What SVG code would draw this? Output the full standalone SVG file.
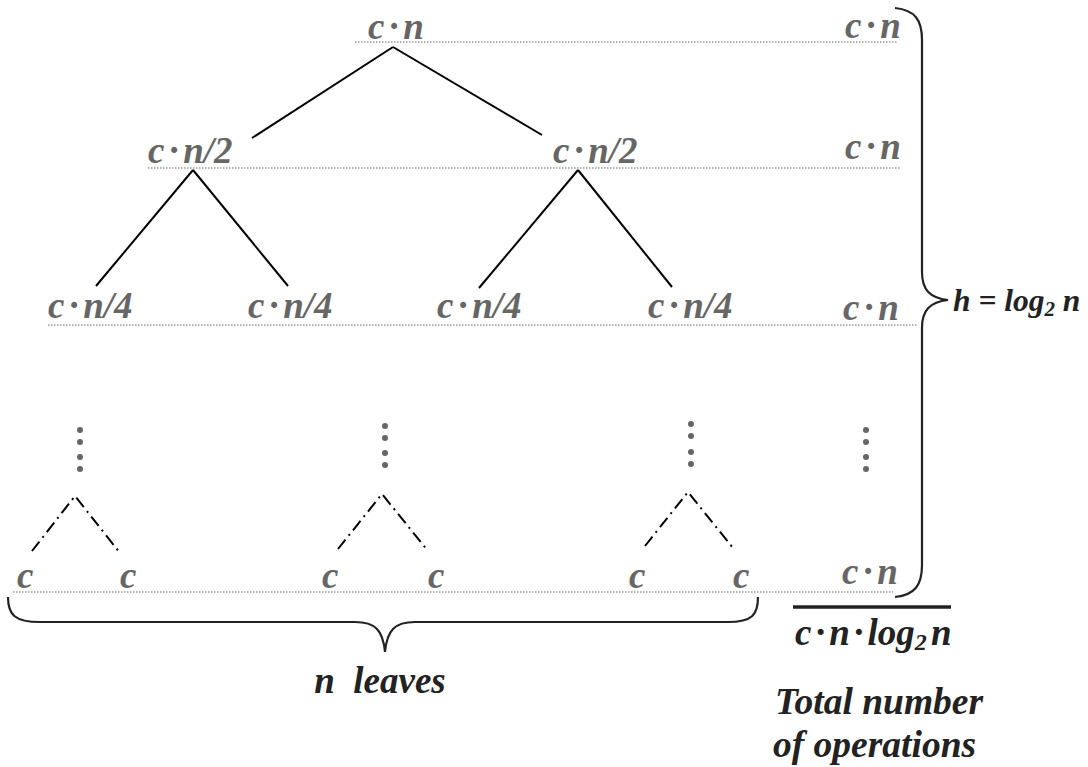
<svg xmlns="http://www.w3.org/2000/svg" width="1088" height="767" viewBox="0 0 1088 767">
<style>
.g{font-family:"Liberation Serif","DejaVu Serif",serif;font-weight:700;font-style:italic;font-size:37px;fill:#666;word-spacing:-4.5px}
.d{font-family:"Liberation Serif","DejaVu Serif",serif;font-weight:700;font-style:italic;fill:#222}
.dot{stroke:#666;stroke-width:1.2;stroke-dasharray:1.5 1.5;fill:none}
.edge{stroke:#000;stroke-width:2;fill:none}
.dash{stroke:#000;stroke-width:2;fill:none;stroke-dasharray:12 5 2 5}
.brace{stroke:#222;stroke-width:2.2;fill:none}
.vd{fill:#666}
</style>
<rect width="1088" height="767" fill="#fff"/>
<g id="levels">
<line class="dot" x1="355" y1="42" x2="897" y2="42"/>
<line class="dot" x1="148" y1="168" x2="900" y2="168"/>
<line class="dot" x1="48" y1="325" x2="918" y2="325"/>
<line class="dot" x1="13" y1="592" x2="893" y2="592"/>
</g>
<g id="connectors">
<line class="edge" x1="393" y1="47" x2="252" y2="138"/>
<line class="edge" x1="393" y1="47" x2="542" y2="135"/>
<line class="edge" x1="193" y1="170" x2="96" y2="286"/>
<line class="edge" x1="193" y1="170" x2="288" y2="286"/>
<line class="edge" x1="578" y1="170" x2="479" y2="288"/>
<line class="edge" x1="578" y1="170" x2="672" y2="287"/>
<polyline class="dash" points="32,551 75,496 120,553"/>
<polyline class="dash" points="338,549 382,494 428,551"/>
<polyline class="dash" points="645,546 688,492 733,548"/>
</g>
<g id="root"><text class="g" x="368" y="39">c · n</text></g>
<g id="n2a"><text class="g" x="148" y="163">c · n/2</text></g>
<g id="n2b"><text class="g" x="553" y="163">c · n/2</text></g>
<g id="n4a"><text class="g" x="48" y="318">c · n/4</text></g>
<g id="n4b"><text class="g" x="248" y="318">c · n/4</text></g>
<g id="n4c"><text class="g" x="437" y="318">c · n/4</text></g>
<g id="n4d"><text class="g" x="648" y="318">c · n/4</text></g>
<g id="vdots">
<circle class="vd" cx="80" cy="430" r="3"/><circle class="vd" cx="80" cy="442" r="3"/><circle class="vd" cx="80" cy="457" r="3"/><circle class="vd" cx="80" cy="469" r="3"/>
<circle class="vd" cx="385" cy="426" r="3"/><circle class="vd" cx="385" cy="438" r="3"/><circle class="vd" cx="385" cy="453" r="3"/><circle class="vd" cx="385" cy="465" r="3"/>
<circle class="vd" cx="691" cy="424" r="3"/><circle class="vd" cx="691" cy="436" r="3"/><circle class="vd" cx="691" cy="452" r="3"/><circle class="vd" cx="691" cy="464" r="3"/>
<circle class="vd" cx="866" cy="430" r="3"/><circle class="vd" cx="866" cy="442" r="3"/><circle class="vd" cx="866" cy="457" r="3"/><circle class="vd" cx="866" cy="469" r="3"/>
</g>
<g id="leaves">
<text class="g" x="17" y="588">c</text>
<text class="g" x="120" y="588">c</text>
<text class="g" x="322" y="588">c</text>
<text class="g" x="428" y="588">c</text>
<text class="g" x="629" y="588">c</text>
<text class="g" x="733" y="588">c</text>
</g>
<g id="sums">
<text class="g" x="845" y="38">c · n</text>
<text class="g" x="845" y="159">c · n</text>
<text class="g" x="843" y="320">c · n</text>
<text class="g" x="842" y="584">c · n</text>
</g>
<g id="height-brace">
<path class="brace" d="M895,8 C915,10 922,20 922,40 L922,272 C922,290 930,298 948,300 C930,302 922,310 922,328 L922,565 C922,585 915,595 895,597"/>
<text class="d" font-size="31.5" x="953" y="311">h = log<tspan dy="5" font-size="21">2</tspan><tspan dy="-5"> n</tspan></text>
</g>
<g id="leaves-brace">
<path class="brace" d="M8,597 C8,615 15,622 40,622 L355,622 C375,622 383,630 385,652 C387,630 395,622 415,622 L728,622 C752,622 758,615 758,597"/>
<text class="d" font-size="37" x="380" y="693" text-anchor="middle" xml:space="preserve">n  leaves</text>
</g>
<g id="total">
<line x1="793" y1="607" x2="951" y2="607" stroke="#222" stroke-width="3.5"/>
<text class="d" font-size="37" x="795" y="645" word-spacing="-5">c · n · log<tspan dy="5" font-size="24">2</tspan><tspan dy="-5"> n</tspan></text>
<text class="d" font-size="37.5" x="775" y="714">Total number</text>
<text class="d" font-size="37.5" x="773" y="757">of operations</text>
</g>
</svg>
